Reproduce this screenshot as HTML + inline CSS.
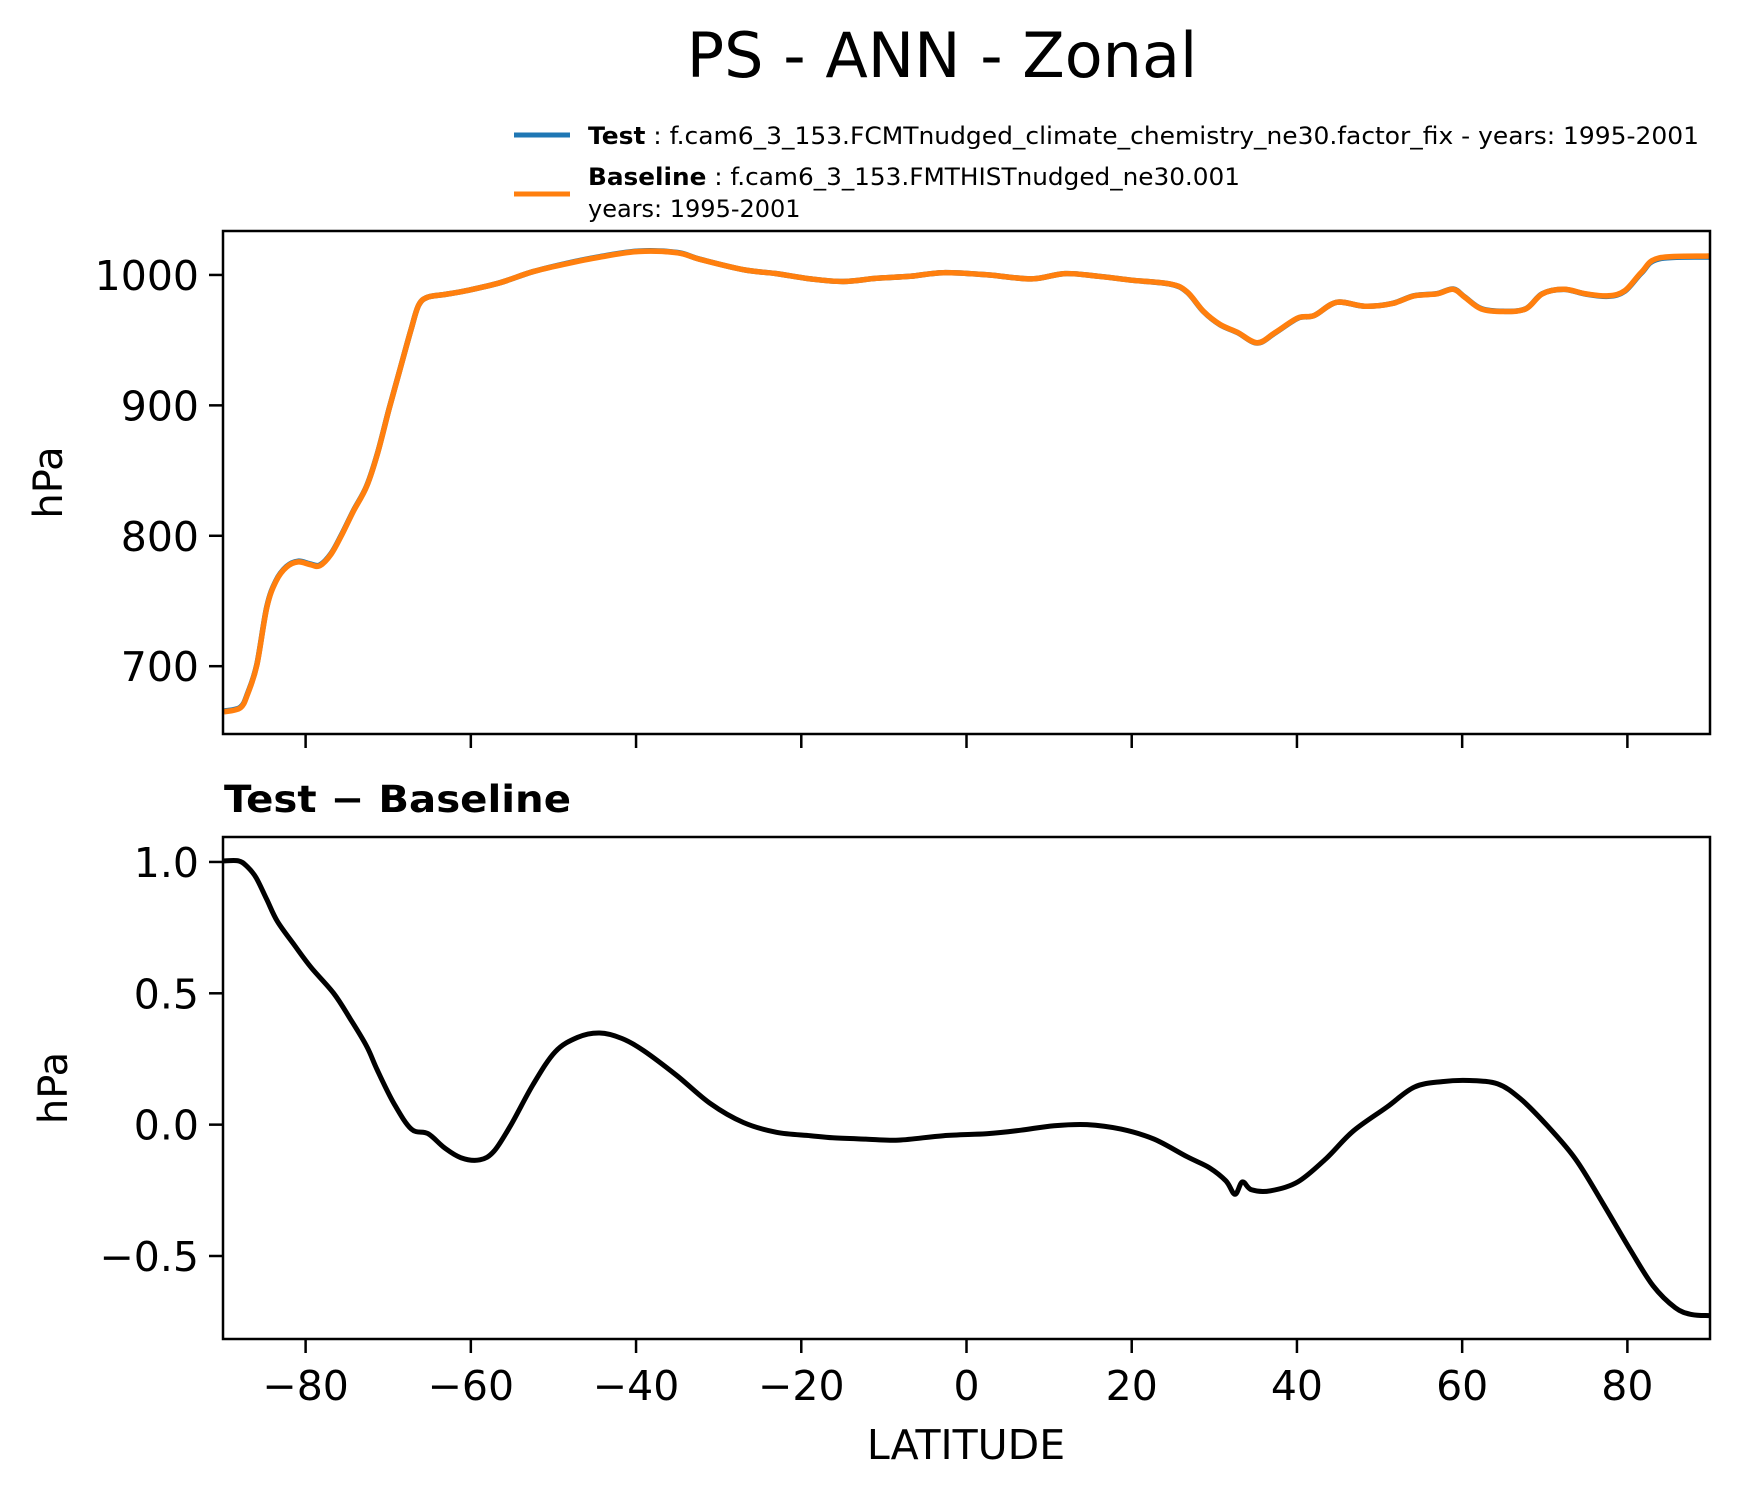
<!DOCTYPE html>
<html><head><meta charset="utf-8"><style>
html,body{margin:0;padding:0;background:#fff;}
svg{display:block;font-family:"DejaVu Sans","Liberation Sans",sans-serif;}
</style></head><body>
<svg id="chart" width="1739" height="1496" viewBox="0 0 1739 1496" xmlns="http://www.w3.org/2000/svg">
<rect width="1739" height="1496" fill="#fff"/>
<text x="942" y="77" font-size="62" text-anchor="middle">PS - ANN - Zonal</text>
<g>
<line x1="514" y1="135" x2="570" y2="135" stroke="#1f77b4" stroke-width="5"/>
<text x="588" y="144" font-size="24" textLength="1111" lengthAdjust="spacingAndGlyphs"><tspan font-weight="bold">Test</tspan> : f.cam6_3_153.FCMTnudged_climate_chemistry_ne30.factor_fix - years: 1995-2001</text>
<line x1="514" y1="194" x2="570" y2="194" stroke="#ff7f0e" stroke-width="5"/>
<text x="588" y="185" font-size="24" textLength="652" lengthAdjust="spacingAndGlyphs"><tspan font-weight="bold">Baseline</tspan> : f.cam6_3_153.FMTHISTnudged_ne30.001</text>
<text x="588" y="217" font-size="24">years: 1995-2001</text>
</g>
<g id="top"></g>
<g id="bot"></g>
<text x="224" y="812" font-size="37" font-weight="bold" textLength="347" lengthAdjust="spacingAndGlyphs">Test − Baseline</text>
<text x="966" y="1459" font-size="41" text-anchor="middle">LATITUDE</text>
</svg>
<script>
const topLat=[-89.9,-87.9,-87,-85.9,-84.7,-83.6,-82.3,-80.9,-79.5,-78.3,-76.9,-75.6,-74.2,-72.6,-71.3,-69.9,-68.6,-67.2,-66.3,-65.2,-63.2,-60.5,-56.5,-52.5,-48.5,-44.4,-39.7,-35,-32.3,-27,-23,-18.9,-14.9,-10.9,-6.8,-2.8,2.6,7.9,11.9,16,20,24.7,26.7,28.7,30.7,32.8,35.2,37.4,40.1,42.1,44.8,48.2,51.5,54.2,56.9,58.9,60.3,62.3,65,67.7,69.7,72.3,75,77.7,79.7,81.7,83.8,89.9];
const baselinePS=[665,668,679,701,745,765,776,780,778,777,786,801,819,838,863,897,927,959,977,983,985,988,994,1002.5,1008.5,1013.7,1018,1017,1012,1004,1001,997,995,997.4,999,1001.7,1000,997,1001,999,996,993,987,972,962,956,948,956,967,969,979,976,978,984,985.5,989,983,974,972,974,985.5,989,985.5,984,988,1002,1013,1014.5];
const testPS=[665.5,668.5,679.5,701.5,745.5,765.5,776.5,780.5,778.5,777.5,786.5,801.5,819.4,838.3,863.3,897.2,927.1,959.1,977,983,985,988,994,1002.5,1008.8,1014,1018.3,1017.2,1012.1,1004,1001,997,995,997.4,999,1001.7,1000,997,1001,999,996,992.9,986.8,971.8,961.8,955.8,947.8,955.8,966.8,968.9,979,976,978.1,984.1,985.6,989.2,983.2,974.2,972.1,974.1,985.6,988.9,985.3,983.6,987.6,1001.5,1012.3,1013.8];
const topTicks=[700,800,900,1000];
const diffLat=[-89.9,-88.1,-87.1,-86,-84.7,-83.4,-81.3,-79.3,-76.6,-74.6,-72.6,-71.3,-69.3,-67.2,-65.2,-63.2,-61.2,-58.9,-57.2,-55.2,-52.5,-49.8,-47.1,-44.4,-41.7,-39.1,-35,-31,-27,-23,-18.9,-16.2,-12.2,-8.2,-2.8,2.6,6.6,10.6,14.6,18.7,22.7,26.7,29.4,31.4,32.5,33.4,34.5,36.8,40.1,43.5,46.8,50.9,54.2,57.6,60.9,64.3,67,70.3,73.7,77,80.4,83.1,85.8,87.8,89.9];
const diffVals=[1.004,1.004,0.983,0.941,0.857,0.773,0.681,0.597,0.5,0.403,0.298,0.206,0.08,-0.017,-0.034,-0.088,-0.126,-0.134,-0.101,-0.004,0.151,0.277,0.332,0.349,0.328,0.282,0.185,0.08,0.008,-0.029,-0.042,-0.05,-0.055,-0.059,-0.042,-0.034,-0.021,-0.004,0,-0.017,-0.055,-0.122,-0.164,-0.214,-0.265,-0.218,-0.248,-0.252,-0.218,-0.13,-0.025,0.067,0.143,0.164,0.168,0.155,0.1,-0.004,-0.13,-0.298,-0.479,-0.613,-0.697,-0.723,-0.727];
const diffTicks=[-0.5,0.0,0.5,1.0];
const diffTickLabels=["−0.5","0.0","0.5","1.0"];
const xTicks=[-80,-60,-40,-20,0,20,40,60,80];
const xTickLabels=["−80","−60","−40","−20","0","20","40","60","80"];

const NS="http://www.w3.org/2000/svg";
const L=223,R=1710;
const xS=v=>L+(v+90)/180*(R-L);
function mk(parent,tag,attrs){const e=document.createElementNS(NS,tag);for(const k in attrs)e.setAttribute(k,attrs[k]);parent.appendChild(e);return e;}
function yScale(t,b,vt,vb){return v=>t+(vt-v)/(vt-vb)*(b-t);}
function pathD(xs,ys,fx,fy){
  const P=xs.map((x,i)=>[fx(x),fy(ys[i])]);
  let d='M'+P[0][0].toFixed(1)+','+P[0][1].toFixed(1);
  for(let i=0;i<P.length-1;i++){
    const p0=P[Math.max(i-1,0)],p1=P[i],p2=P[i+1],p3=P[Math.min(i+2,P.length-1)];
    const c1=[p1[0]+(p2[0]-p0[0])/6,p1[1]+(p2[1]-p0[1])/6];
    const c2=[p2[0]-(p3[0]-p1[0])/6,p2[1]-(p3[1]-p1[1])/6];
    d+='C'+c1[0].toFixed(1)+','+c1[1].toFixed(1)+' '+c2[0].toFixed(1)+','+c2[1].toFixed(1)+' '+p2[0].toFixed(1)+','+p2[1].toFixed(1);
  }
  return d;
}

// top panel
const gT=document.getElementById('top');
const tT=231,tB=734;const yT=yScale(tT,tB,1033.7,648);
const clipT=mk(gT,'clipPath',{id:'cT'});mk(clipT,'rect',{x:L,y:tT,width:R-L,height:tB-tT});
let p=mk(gT,'path',{d:pathD(topLat,testPS,xS,yT),fill:'none',stroke:'#1f77b4','stroke-width':5.5,'stroke-linejoin':'round','clip-path':'url(#cT)'});


p=mk(gT,'path',{d:pathD(topLat,baselinePS,xS,yT),fill:'none',stroke:'#ff7f0e','stroke-width':5.5,'stroke-linejoin':'round','clip-path':'url(#cT)'});


topTicks.forEach(v=>{const y=yT(v);
 const t=mk(gT,'line',{x1:L-14,x2:L,y1:y,y2:y,stroke:'#000','stroke-width':2.5});
 
 
 const tx=mk(gT,'text',{x:L-24,y:y+15,'font-size':41,'text-anchor':'end'});tx.textContent=v;
 
 });
xTicks.forEach(v=>{const x=xS(v);
 const t=mk(gT,'line',{x1:x,x2:x,y1:tB,y2:tB+14,stroke:'#000','stroke-width':2.5});
 
 });
let fr=mk(gT,'rect',{x:L,y:tT,width:R-L,height:tB-tT,fill:'none',stroke:'#000','stroke-width':2.5});


let yl=mk(gT,'text',{x:0,y:0,'font-size':40,'text-anchor':'middle',transform:`translate(62,${(tT+tB)/2}) rotate(-90)`});yl.textContent='hPa';



// bottom panel
const gB=document.getElementById('bot');
const bT=837,bB=1339;const yB=yScale(bT,bB,1.095,-0.816);
const clipB=mk(gB,'clipPath',{id:'cB'});mk(clipB,'rect',{x:L,y:bT,width:R-L,height:bB-bT});
p=mk(gB,'path',{d:pathD(diffLat,diffVals,xS,yB),fill:'none',stroke:'#000','stroke-width':5,'stroke-linejoin':'round','clip-path':'url(#cB)'});


diffTicks.forEach((v,i)=>{const y=yB(v);
 const t=mk(gB,'line',{x1:L-14,x2:L,y1:y,y2:y,stroke:'#000','stroke-width':2.5});
 
 
 const tx=mk(gB,'text',{x:L-24,y:y+15,'font-size':41,'text-anchor':'end'});tx.textContent=diffTickLabels[i];
 
 });
xTicks.forEach((v,i)=>{const x=xS(v);
 const t=mk(gB,'line',{x1:x,x2:x,y1:bB,y2:bB+14,stroke:'#000','stroke-width':2.5});
 
 
 const tx=mk(gB,'text',{x:x,y:bB+61,'font-size':41,'text-anchor':'middle'});tx.textContent=xTickLabels[i];
 
 });
fr=mk(gB,'rect',{x:L,y:bT,width:R-L,height:bB-bT,fill:'none',stroke:'#000','stroke-width':2.5});


yl=mk(gB,'text',{x:0,y:0,'font-size':40,'text-anchor':'middle',transform:`translate(67,${(bT+bB)/2}) rotate(-90)`});yl.textContent='hPa';


</script>
</body></html>
